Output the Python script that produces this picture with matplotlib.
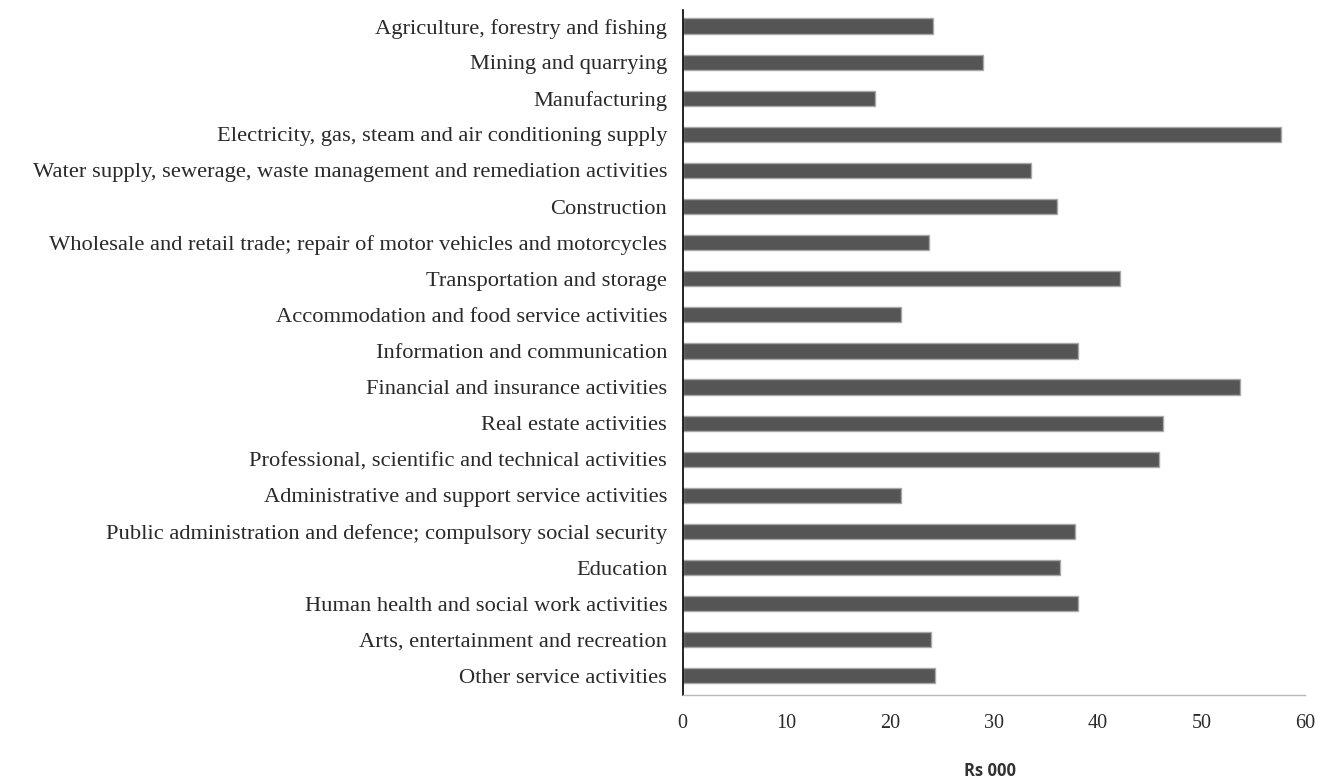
import matplotlib
matplotlib.use("Agg")
import matplotlib.pyplot as plt

categories = [
    "Agriculture, forestry and fishing",
    "Mining and quarrying",
    "Manufacturing",
    "Electricity, gas, steam and air conditioning supply",
    "Water supply, sewerage, waste management and remediation activities",
    "Construction",
    "Wholesale and retail trade; repair of motor vehicles and motorcycles",
    "Transportation and storage",
    "Accommodation and food service activities",
    "Information and communication",
    "Financial and insurance activities",
    "Real estate activities",
    "Professional, scientific and technical activities",
    "Administrative and support service activities",
    "Public administration and defence; compulsory social security",
    "Education",
    "Human health and social work activities",
    "Arts, entertainment and recreation",
    "Other service activities",
]
values = [24.1, 28.9, 18.5, 57.6, 33.6, 36.1, 23.7, 42.1, 21.0, 38.1,
          53.7, 46.3, 45.9, 21.0, 37.8, 36.4, 38.1, 23.9, 24.3]
xticks = [0, 10, 20, 30, 40, 50, 60]
xlabel = "Rs 000"

fig = plt.figure(figsize=(13.28, 7.84), dpi=100)
ax = fig.add_axes([0.514, 0.1135, 0.469, 0.8735])

n = len(categories)
ypos = list(range(n))
ax.barh(ypos, values, height=0.42, color="#555555", edgecolor="#a8a8a8", linewidth=1.0)
ax.set_ylim(n - 1 + 0.53, -0.44)
ax.set_xlim(0, 60)
ax.set_yticks(ypos)
ax.set_yticklabels(categories, family="Liberation Serif", fontsize=16.2, color="#2a2a2a")
ax.set_xticks(xticks)
ax.set_xticklabels([str(t) for t in xticks], family="Liberation Serif", fontsize=14.5, color="#2a2a2a")
ax.tick_params(axis="both", length=0)
ax.tick_params(axis="y", pad=11)
ax.tick_params(axis="x", pad=14)
for s in ["top", "right"]:
    ax.spines[s].set_visible(False)
ax.spines["left"].set_color("black")
ax.spines["left"].set_linewidth(1.2)
ax.spines["bottom"].set_color("#b8b8b8")
ax.spines["bottom"].set_linewidth(1.0)

fig.text(990 / 1328, 1 - 771 / 784, xlabel, ha="center", va="center",
         family="Open Sans", fontweight="bold", fontsize=12, color="#333333")

fig.savefig("out.png", dpi=100)
